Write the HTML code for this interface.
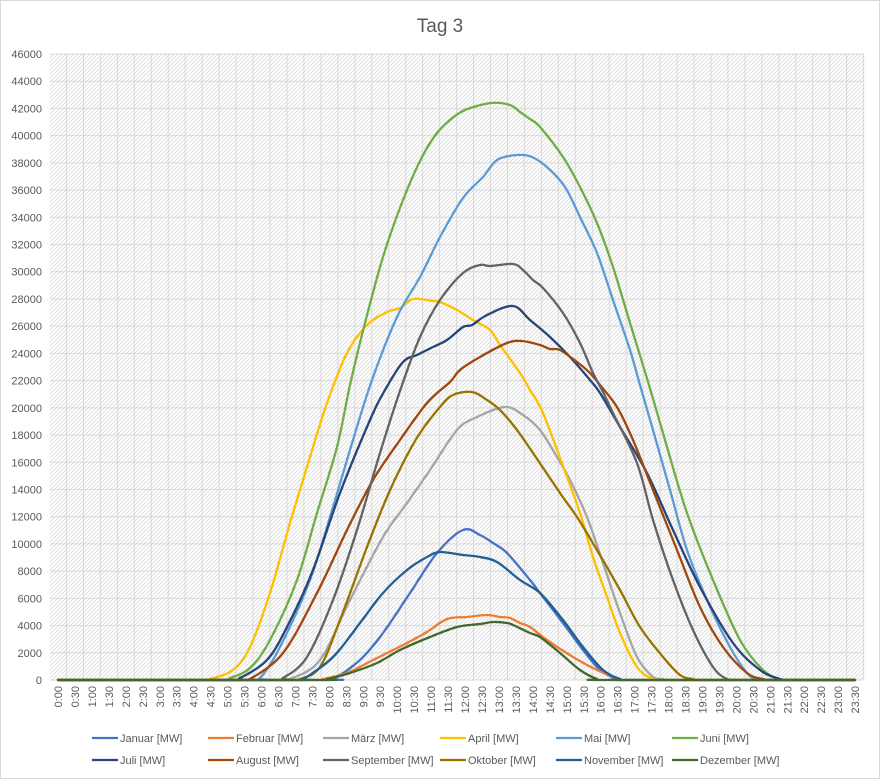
<!DOCTYPE html>
<html><head><meta charset="utf-8"><style>
html,body{margin:0;padding:0;background:#fff}
svg{display:block;font-family:"Liberation Sans",sans-serif}
</style></head><body>
<svg id="c" width="880" height="779" viewBox="0 0 880 779" xmlns="http://www.w3.org/2000/svg">
<defs>
<pattern id="h" width="4" height="4" patternUnits="userSpaceOnUse">
<path d="M-1,1 l2,-2 M0,4 l4,-4 M3,5 l2,-2" stroke="#d9d9d9" stroke-width="0.8"/>
</pattern>
</defs>
<rect x="0.5" y="0.5" width="879" height="778" fill="#fff" stroke="#d9d9d9"/>
<text x="440" y="32" text-anchor="middle" font-size="19" fill="#595959">Tag 3</text>
<rect x="50" y="54" width="814" height="626" fill="url(#h)"/>
<g id="grid"></g>
<g id="lab" font-size="11" fill="#595959"></g>
<g id="ser" fill="none" stroke-width="2.3" stroke-linejoin="round" stroke-linecap="round"></g>
<g id="leg" font-size="11" fill="#595959"></g>
</svg>
<script>
var NS="http://www.w3.org/2000/svg";
function el(p,t,a,txt){var e=document.createElementNS(NS,t);for(var k in a)e.setAttribute(k,a[k]);if(txt!=null)e.textContent=txt;document.getElementById(p).appendChild(e);return e;}
var X0=58,DX=33.92,Y0=680,SY=626/46000;
function X(t){return X0+DX*t}function Y(v){return Y0-v*SY}
for(var i=0;i<=23;i++){var y=Y(i*2000);
 el('grid','line',{x1:50,x2:864,y1:y,y2:y,stroke:'#d9d9d9','stroke-width':1});
 el('lab','text',{x:42,y:y+4,'text-anchor':'end'},String(i*2000));}
for(var j=0;j<48;j++){var x=X(j/2);
 el('grid','line',{x1:x+8.5,x2:x+8.5,y1:54,y2:680,stroke:'#d9d9d9','stroke-width':1});
 var lbl=Math.floor(j/2)+':'+(j%2?'30':'00');
 el('lab','text',{x:0,y:0,transform:'translate('+(x+4)+',686) rotate(-90)','text-anchor':'end'},lbl);}
var S=[
['Januar','#4472C4',[[333,679],[360,660],[383,633],[410,593],[437,553],[463,530],[480,535],[493,543],[507,553],[530,580],[540,593],[563,623],[583,650],[600,670],[617,679]]],
['Februar','#ED7D31',[[323,679],[347,673],[373,660],[407,643],[427,632],[447,619],[467,617],[487,615],[500,617],[510,618],[520,623],[530,627],[547,640],[573,657],[597,670],[620,679]]],
['März','#A5A5A5',[[290,679],[320,660],[350,600],[383,537],[407,503],[430,470],[457,430],[477,417],[505,407],[523,415],[540,430],[557,457],[570,480],[587,517],[603,563],[620,613],[637,657],[653,677],[663,679]]],
['April','#FFC000',[[210,679],[233,670],[250,647],[270,593],[290,523],[310,457],[327,403],[347,353],[367,325],[387,312],[400,308],[413,299],[433,301],[440,302],[457,310],[473,320],[490,330],[500,345],[520,373],[530,390],[543,413],[567,477],[580,513],[593,557],[607,597],[620,633],[637,667],[653,679]]],
['Mai','#5B9BD5',[[260,678],[280,647],[310,580],[333,507],[353,440],[372,380],[397,317],[420,277],[440,237],[463,198],[483,177],[497,160],[517,155],[532,157],[548,168],[565,187],[580,217],[597,253],[613,300],[630,350],[640,385],[653,430],[670,490],[687,550],[707,600],[730,647],[747,673],[757,679]]],
['Juni','#70AD47',[[230,678],[250,668],[270,640],[297,580],[317,513],[337,447],[350,385],[365,323],[383,257],[403,200],[422,157],[437,133],[450,120],[465,110],[491,103],[510,105],[520,112],[530,119],[540,127],[563,157],[580,187],[597,223],[613,267],[630,323],[649,385],[667,447],[687,513],[713,580],[740,640],[763,670],[780,679]]],
['Juli','#264478',[[240,678],[267,660],[287,627],[313,570],[340,493],[370,420],[385,390],[403,362],[417,355],[433,347],[447,340],[463,327],[472,325],[487,315],[513,306],[530,320],[550,337],[570,357],[590,380],[600,393],[620,427],[647,473],[673,530],[700,587],[733,643],[760,670],[780,679]]],
['August','#9E480E',[[250,679],[283,653],[317,593],[347,530],[373,480],[400,440],[427,403],[450,382],[460,370],[480,357],[507,343],[522,341],[540,345],[550,349],[560,350],[577,362],[590,373],[600,385],[617,407],[633,440],[653,490],[677,550],[700,607],[723,647],[747,673],[763,679]]],
['September','#636363',[[283,678],[307,657],[333,600],[357,530],[380,453],[401,388],[420,337],[440,300],[463,273],[480,265],[490,266],[513,264],[523,270],[533,280],[543,288],[563,313],[580,343],[593,373],[603,392],[613,413],[637,463],[653,520],[673,580],[693,630],[713,667],[727,679]]],
['Oktober','#997300',[[300,679],[320,667],[340,620],[367,547],[387,497],[403,463],[420,433],[440,407],[453,395],[472,392],[487,400],[500,410],[517,430],[533,453],[560,493],[577,517],[597,550],[620,590],[640,627],[663,657],[680,675],[693,679]]],
['November','#255E91',[[303,679],[333,657],[360,623],[383,593],[407,570],[427,557],[440,552],[463,555],[480,557],[497,562],[520,580],[540,593],[563,620],[583,647],[603,670],[620,679]]],
['Dezember','#43682B',[[327,679],[350,673],[377,663],[400,650],[430,637],[457,627],[480,624],[493,622],[507,623],[513,625],[530,633],[540,637],[560,653],[580,670],[597,679]]]];
S.forEach(function(s){
 var p=[[58,680],[s[2][0][0]-12,680]].concat(s[2]);
 var l=s[2][s[2].length-1][0];
 p.push([l+12,680]);p.push([855,680]);
 var d='M'+p[0][0]+','+p[0][1];
 for(var k=0;k<p.length-1;k++){
  var a=p[Math.max(k-1,0)],b=p[k],c=p[k+1],e=p[Math.min(k+2,p.length-1)];
  var c1x=b[0]+(c[0]-a[0])/6,c1y=b[1]+(c[1]-a[1])/6,c2x=c[0]-(e[0]-b[0])/6,c2y=c[1]-(e[1]-b[1])/6;
  c1y=Math.min(c1y,680);c2y=Math.min(c2y,680);
  d+=' C'+c1x.toFixed(1)+','+c1y.toFixed(1)+' '+c2x.toFixed(1)+','+c2y.toFixed(1)+' '+c[0]+','+c[1];
 }
 el('ser','path',{d:d,stroke:s[1]});
});
var cx=[92,208,323,440,556,672];
S.forEach(function(s,i){var x=cx[i%6],y=i<6?738:760;
 el('leg','line',{x1:x,x2:x+26,y1:y,y2:y,stroke:s[1],'stroke-width':2.2});
 el('leg','text',{x:x+28,y:y+4},s[0]+' [MW]');});
</script>
</body></html>
